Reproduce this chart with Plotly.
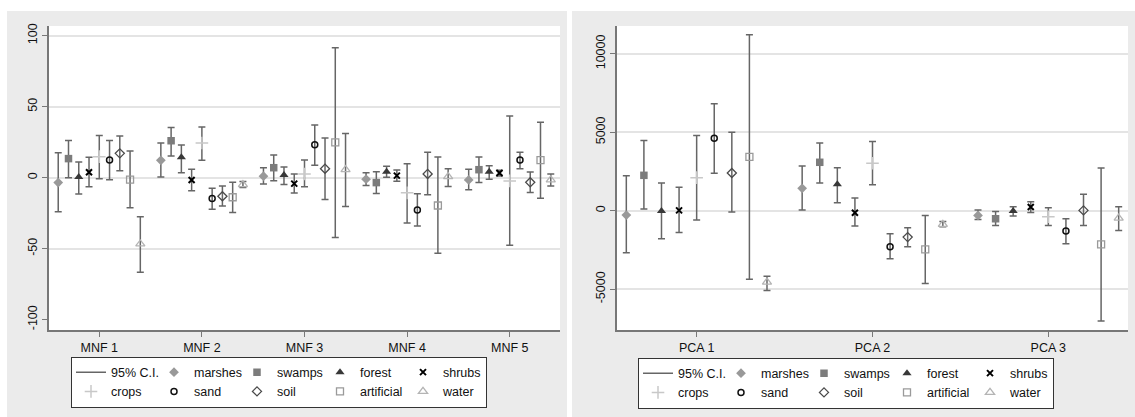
import plotly.graph_objects as go
import numpy as np

# ---------------- data ----------------
mnf_labels = ["MNF 1", "MNF 2", "MNF 3", "MNF 4", "MNF 5"]
pca_labels = ["PCA 1", "PCA 2", "PCA 3"]
series = ["marshes", "swamps", "forest", "shrubs", "crops", "sand", "soil", "artificial", "water"]

# MNF panel: mean, lower and upper 95% CI
marshes_mnf = [-3.5, 12.2, 1.0, -1.1, -1.6]
marshes_mnf_lo = [-24.1, 0.5, -4.4, -5.6, -8.6]
marshes_mnf_hi = [17.6, 24.4, 7.0, 3.5, 5.9]
swamps_mnf = [13.4, 26.0, 7.0, -3.5, 5.6]
swamps_mnf_lo = [0.0, 15.2, -2.1, -11.2, -3.5]
swamps_mnf_hi = [26.2, 35.4, 15.9, 4.2, 14.5]
forest_mnf = [0.5, 14.3, 1.9, 4.2, 4.2]
forest_mnf_lo = [-11.5, 3.5, -4.9, 0.3, -1.1]
forest_mnf_hi = [11.0, 23.0, 7.5, 8.0, 8.4]
shrubs_mnf = [3.8, -1.6, -4.2, 1.4, 3.3]
shrubs_mnf_lo = [-6.5, -9.3, -10.9, -2.5, 1.2]
shrubs_mnf_hi = [14.3, 5.9, 2.6, 5.4, 5.2]
crops_mnf = [14.8, 24.4, 2.6, -10.7, -2.3]
crops_mnf_lo = [-0.7, 12.2, -6.5, -32.0, -47.7]
crops_mnf_hi = [29.7, 35.6, 12.4, 9.8, 43.5]
sand_mnf = [12.4, -14.7, 23.2, -22.7, 12.4]
sand_mnf_lo = [-1.4, -22.2, 8.7, -34.1, 6.3]
sand_mnf_hi = [26.2, -7.5, 37.0, -11.4, 17.8]
soil_mnf = [17.1, -13.1, 6.3, 2.6, -3.3]
soil_mnf_lo = [4.9, -19.9, -15.4, -12.1, -10.5]
soil_mnf_hi = [29.3, -5.8, 27.9, 17.8, 4.0]
artificial_mnf = [-1.4, -13.8, 24.8, -19.6, 12.4]
artificial_mnf_lo = [-21.2, -24.6, -42.1, -53.3, -14.5]
artificial_mnf_hi = [18.7, -3.3, 91.5, 14.5, 39.1]
water_mnf = [-46.7, -4.9, 5.6, 0.7, -1.6]
water_mnf_lo = [-66.6, -7.0, -20.3, -6.3, -5.8]
water_mnf_hi = [-27.6, -2.8, 31.1, 6.3, 2.6]

# PCA panel
marshes_pca = [-277, 1426, -298]
marshes_pca_lo = [-2681, 43, -553]
marshes_pca_hi = [2234, 2852, 43]
swamps_pca = [2256, 3086, -511]
swamps_pca_lo = [106, 1766, -936]
swamps_pca_hi = [4469, 4320, -43]
forest_pca = [-20, 1681, -21]
forest_pca_lo = [-1788, 511, -340]
forest_pca_hi = [1766, 2745, 255]
shrubs_pca = [21, -128, 234]
shrubs_pca_lo = [-1383, -979, -106]
shrubs_pca_hi = [1490, 809, 575]
crops_pca = [2107, 3022, -383]
crops_pca_lo = [-596, 1660, -936]
crops_pca_hi = [4788, 4405, 192]
sand_pca = [4618, -2298, -1298]
sand_pca_lo = [2383, -3064, -2107]
sand_pca_hi = [6810, -1468, -511]
soil_pca = [2405, -1681, 21]
soil_pca_lo = [-85, -2298, -936]
soil_pca_hi = [5001, -1085, 1043]
artificial_pca = [3426, -2468, -2149]
artificial_pca_lo = [-4362, -4639, -7022]
artificial_pca_hi = [11215, -298, 2724]
water_pca = [-4554, -872, -468]
water_pca_lo = [-5086, -1021, -1256]
water_pca_hi = [-4171, -681, 255]

mnf_ticks = [-100, -50, 0, 50, 100]
pca_ticks = [-5000, 0, 5000, 10000]

data = {
    "mnf": {s: (globals()[f"{s}_mnf"], globals()[f"{s}_mnf_lo"], globals()[f"{s}_mnf_hi"]) for s in series},
    "pca": {s: (globals()[f"{s}_pca"], globals()[f"{s}_pca_lo"], globals()[f"{s}_pca_hi"]) for s in series},
}

# ---------------- style ----------------
W, H = 1135, 417
FONT = "Liberation Sans, Arial, sans-serif"
ERR = "#666666"
STYLE = {
    "marshes":    dict(symbol="diamond", size=7.5, color="#999999", lw=0),
    "swamps":     dict(symbol="square", size=7.5, color="#7c7c7c", lw=0),
    "forest":     dict(symbol="triangle-up", size=8, color="#383838", lw=0),
    "shrubs":     dict(symbol="x-thin", size=6, color="#000000", lw=2),
    "crops":      dict(symbol="cross-thin", size=9, color="#c8c8c8", lw=1.5),
    "sand":       dict(symbol="circle-open", size=6, color="#111111", lw=1.5),
    "soil":       dict(symbol="diamond-open", size=7, color="#4a4a4a", lw=1.3),
    "artificial": dict(symbol="square-open", size=7, color="#9a9a9a", lw=1.3),
    "water":      dict(symbol="triangle-up-open", size=8, color="#b4b4b4", lw=1.3),
}
GROUP = {"marshes": 2, "swamps": 3, "forest": 4, "shrubs": 5,
         "crops": 1, "sand": 2, "soil": 3, "artificial": 4, "water": 5}
STEP = 0.1

def px_x(p):
    return p / W

def px_y(p):
    return 1 - p / H

def tick_text(vals):
    return [str(v) for v in vals]

fig = go.Figure()

panels = [
    ("mnf", mnf_labels, "x", "y", "legend"),
    ("pca", pca_labels, "x2", "y2", "legend2"),
]
for pname, labels, xa, ya, lg in panels:
    fig.add_trace(go.Scatter(
        x=[None], y=[None], mode="lines", name="95% C.I.",
        line=dict(color=ERR, width=1.5),
        legendgroup=f"{pname}1", legend=lg, xaxis=xa, yaxis=ya, hoverinfo="skip"))
    base = np.arange(1, len(labels) + 1)
    for j, s in enumerate(series):
        mean, lo, hi = (np.array(v, dtype=float) for v in data[pname][s])
        st = STYLE[s]
        fig.add_trace(go.Scatter(
            x=base + (j - 4) * STEP, y=mean, mode="markers", name=s,
            marker=dict(symbol=st["symbol"], size=st["size"], color=st["color"],
                        line=dict(color=st["color"], width=st["lw"])),
            error_y=dict(type="data", symmetric=False, array=hi - mean,
                         arrayminus=mean - lo, color=ERR, thickness=1.5, width=3.5),
            legendgroup=f"{pname}{GROUP[s]}", legend=lg, xaxis=xa, yaxis=ya))

axis_common = dict(
    showline=True, linecolor="#777777", linewidth=1.5,
    ticks="outside", ticklen=5, tickwidth=1.2, tickcolor="#777777",
    tickfont=dict(family=FONT, size=12.5, color="#111111"),
    zeroline=False,
)

ydom = [px_y(330), px_y(26)]
legend_common = dict(orientation="h", traceorder="grouped", tracegroupgap=0,
                     entrywidth=38, entrywidthmode="pixels", xanchor="left",
                     yanchor="middle", bgcolor="white", bordercolor="#333333",
                     borderwidth=1, font=dict(family=FONT, size=12.5, color="#111111"))
fig.update_layout(
    width=W, height=H,
    margin=dict(l=0, r=0, t=0, b=0, autoexpand=False),
    paper_bgcolor="white", plot_bgcolor="white",
    font=dict(family=FONT, size=12.5, color="#111111"),
    xaxis=dict(domain=[px_x(49), px_x(560)], range=[0.51, 5.49],
               tickmode="array", tickvals=list(range(1, 6)), ticktext=mnf_labels,
               showgrid=False, **axis_common),
    yaxis=dict(domain=ydom, range=[-107.3, 106.8], tickmode="array", tickvals=mnf_ticks,
               ticktext=tick_text(mnf_ticks), tickangle=-90, showgrid=False,
               minor=dict(tickmode="array", tickvals=mnf_ticks[1:], showgrid=True,
                          gridcolor="#e4e4e4", gridwidth=1.5, ticks=""),
               **axis_common),
    xaxis2=dict(domain=[px_x(617), px_x(1128)], range=[0.547, 3.453], anchor="y2",
                tickmode="array", tickvals=list(range(1, 4)), ticktext=pca_labels,
                showgrid=False, **axis_common),
    yaxis2=dict(domain=ydom, range=[-7600, 11770], anchor="x2", tickmode="array",
                tickvals=pca_ticks, ticktext=tick_text(pca_ticks), tickangle=-90,
                showgrid=True, gridcolor="#e4e4e4", gridwidth=1.5, **axis_common),
    legend=dict(x=px_x(71), y=px_y(382), **legend_common),
    legend2=dict(x=px_x(638), y=px_y(383), **legend_common),
    shapes=[
        dict(type="rect", xref="paper", yref="paper", x0=px_x(7), x1=px_x(567),
             y0=0, y1=px_y(11), fillcolor="#ebebeb", line_width=0, layer="below"),
        dict(type="rect", xref="paper", yref="paper", x0=px_x(572), x1=1,
             y0=0, y1=px_y(11), fillcolor="#ebebeb", line_width=0, layer="below"),
        dict(type="rect", xref="x domain", yref="y domain", x0=0, x1=1, y0=0, y1=1,
             fillcolor="white", line_width=0, layer="below"),
        dict(type="rect", xref="x2 domain", yref="y2 domain", x0=0, x1=1, y0=0, y1=1,
             fillcolor="white", line_width=0, layer="below"),
    ],
)

fig.write_html("out.html", config={"displayModeBar": False},
               post_script="document.body.style.margin='0';document.body.style.padding='0';")
